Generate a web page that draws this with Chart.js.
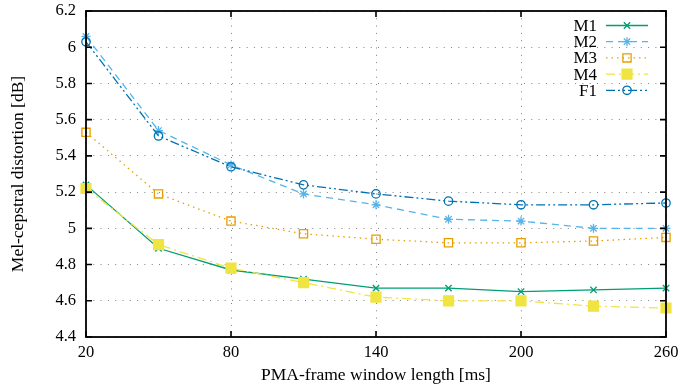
<!DOCTYPE html>
<html>
<head>
<meta charset="utf-8">
<script src="https://cdn.jsdelivr.net/npm/chart.js@4/dist/chart.umd.min.js"></script>
<style>
html,body{margin:0;padding:0;background:#fff;}
#wrap{position:relative;width:684px;height:392px;}
</style>
</head>
<body>
<div id="wrap"><canvas id="c" width="684" height="392"></canvas></div>
<script>
// ---- data ----
const windowLengths = [20, 50, 80, 110, 140, 170, 200, 230, 260];
const seriesNames = ["M1", "M2", "M3", "M4", "F1"];
const m1 = [5.24, 4.89, 4.77, 4.72, 4.67, 4.67, 4.65, 4.66, 4.67];
const m2 = [6.06, 5.54, 5.35, 5.19, 5.13, 5.05, 5.04, 5.00, 5.00];
const m3 = [5.53, 5.19, 5.04, 4.97, 4.94, 4.92, 4.92, 4.93, 4.95];
const m4 = [5.22, 4.91, 4.78, 4.70, 4.62, 4.60, 4.60, 4.57, 4.56];
const f1 = [6.03, 5.51, 5.34, 5.24, 5.19, 5.15, 5.13, 5.13, 5.14];
const xTicks = [20, 80, 140, 200, 260];
const yTicks = [4.4, 4.6, 4.8, 5, 5.2, 5.4, 5.6, 5.8, 6, 6.2];
const xTitle = "PMA-frame window length [ms]";
const yTitle = "Mel-cepstral distortion [dB]";

const FONT = "'Liberation Serif', 'Times New Roman', serif";

const styles = [
  {color: "#009E73", dash: [], point: "crossRot", radius: 4.5, fill: false},
  {color: "#56B4E9", dash: [7, 5], point: "star", radius: 4.5, fill: false},
  {color: "#E69F00", dash: [1.5, 4], point: "rect", radius: 5.8, fill: false},
  {color: "#F0E442", dash: [9, 4, 2, 4], point: "rect", radius: 7, fill: true},
  {color: "#0072B2", dash: [9, 3, 2, 3, 2, 3], point: "circle", radius: 4.2, fill: false}
];
const values = [m1, m2, m3, m4, f1];

const datasets = values.map((vals, i) => ({
  label: seriesNames[i],
  data: windowLengths.map((x, j) => ({x: x, y: vals[j]})),
  borderColor: styles[i].color,
  backgroundColor: styles[i].fill ? styles[i].color : "#ffffff00",
  borderWidth: 1.3,
  borderDash: styles[i].dash,
  pointStyle: styles[i].point,
  pointRadius: styles[i].radius,
  pointBorderWidth: 1.3,
  pointBorderColor: styles[i].color,
  pointBackgroundColor: styles[i].fill ? styles[i].color : "rgba(0,0,0,0)",
  tension: 0,
  clip: false,
  order: 5 - i
}));

const framePlugin = {
  id: "frame",
  afterDatasetsDraw(chart) {
    const ctx = chart.ctx;
    const a = chart.chartArea;
    const xs = chart.scales.x, ys = chart.scales.y;
    ctx.save();
    ctx.strokeStyle = "#000";
    ctx.lineWidth = 1.6;
    ctx.setLineDash([]);
    ctx.beginPath();
    const L = 6;
    xTicks.forEach(v => {
      const px = xs.getPixelForValue(v);
      ctx.moveTo(px, a.bottom); ctx.lineTo(px, a.bottom - L);
      ctx.moveTo(px, a.top); ctx.lineTo(px, a.top + L);
    });
    yTicks.forEach(v => {
      const py = ys.getPixelForValue(v);
      ctx.moveTo(a.left, py); ctx.lineTo(a.left + L, py);
      ctx.moveTo(a.right, py); ctx.lineTo(a.right - L, py);
    });
    ctx.stroke();
    ctx.lineWidth = 1.8;
    ctx.strokeRect(a.left, a.top, a.right - a.left, a.bottom - a.top);

    // legend
    const textRight = 597, lineL = 606, lineR = 648, mid = 627;
    const y0 = 25.5, dy = 16.2;
    ctx.font = "17px " + FONT;
    ctx.textAlign = "right";
    ctx.textBaseline = "middle";
    chart.data.datasets.forEach((ds, i) => {
      const y = y0 + i * dy;
      ctx.fillStyle = "#000";
      ctx.fillText(ds.label, textRight, y + 1);
      ctx.strokeStyle = ds.borderColor;
      ctx.lineWidth = ds.borderWidth;
      ctx.setLineDash(ds.borderDash);
      ctx.beginPath();
      ctx.moveTo(lineL, y); ctx.lineTo(lineR, y);
      ctx.stroke();
      ctx.setLineDash([]);
      ctx.fillStyle = ds.pointBackgroundColor;
      ctx.strokeStyle = ds.pointBorderColor;
      ctx.lineWidth = ds.pointBorderWidth;
      Chart.helpers.drawPoint(ctx, {pointStyle: ds.pointStyle, radius: ds.pointRadius, rotation: 0, borderWidth: ds.pointBorderWidth}, mid, y);
    });
    ctx.restore();
  }
};

new Chart(document.getElementById("c"), {
  type: "line",
  data: {datasets: datasets},
  options: {
    responsive: false,
    animation: false,
    devicePixelRatio: 1,
    layout: {padding: {top: 11, right: 18, left: 0, bottom: 0}},
    plugins: {legend: {display: false}, tooltip: {enabled: false}, title: {display: false}},
    scales: {
      x: {
        type: "linear",
        min: 20, max: 260,
        afterBuildTicks: s => { s.ticks = xTicks.map(v => ({value: v})); },
        afterFit: s => { s.height = 55; s.paddingLeft = 0; s.paddingRight = 0; },
        grid: {color: "#808080", lineWidth: 1, drawTicks: false},
        border: {display: false, dash: [1, 6.3]},
        ticks: {color: "#000", font: {family: FONT, size: 16.5}, padding: 6, maxRotation: 0, autoSkip: false,
                callback: v => String(v)},
        title: {display: true, text: xTitle, color: "#000", font: {family: FONT, size: 17.5}, padding: {top: 0, bottom: 6}}
      },
      y: {
        type: "linear",
        min: 4.4, max: 6.2,
        afterBuildTicks: s => { s.ticks = yTicks.map(v => ({value: v})); },
        afterFit: s => { s.width = 86; s.paddingTop = 0; s.paddingBottom = 0; },
        grid: {color: "#808080", lineWidth: 1, drawTicks: false},
        border: {display: false, dash: [1, 6.3]},
        ticks: {color: "#000", font: {family: FONT, size: 16.5}, padding: 10, autoSkip: false,
                callback: v => String(Number(Number(v).toFixed(1)))},
        title: {display: true, text: yTitle, color: "#000", font: {family: FONT, size: 17.5}, padding: {top: 8, bottom: 0}}
      }
    }
  },
  plugins: [framePlugin]
});
</script>
</body>
</html>
